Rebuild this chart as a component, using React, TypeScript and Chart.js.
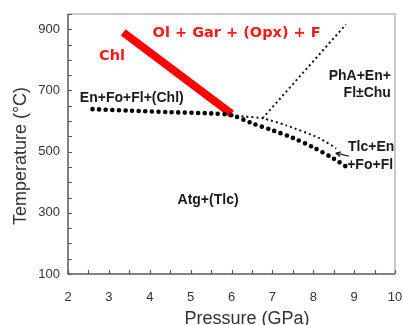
import React, { useEffect, useRef } from 'react';
import { Chart, registerables } from 'chart.js';

Chart.register(...registerables);

// ---- data (pressure in GPa, temperature in °C) ----
const xTickValues = [2, 3, 4, 5, 6, 7, 8, 9, 10];
const yTickValues = [100, 300, 500, 700, 900];

// Chlorite breakdown (red)
const chlP = [3.35, 6.0];
const chlT = [890, 624];

// Antigorite dehydration (big dots)
const atgP = [2.6, 3.5, 4.5, 5.5, 6.0, 6.5, 7.0, 7.5, 8.0, 8.5, 8.85];
const atgT = [639, 634, 629, 625, 619, 593, 570, 545, 514, 477, 447];

// Phase A boundary (thin dots, rising)
const phaP = [6.76, 8.8];
const phaT = [609, 916];

// Talc boundary (thin dots, falling)
const tlcP = [6.0, 6.3, 6.76, 7.34, 8.15, 8.56];
const tlcT = [620, 615, 609, 586, 544, 511];

// small arrow near label
const arrowP = [8.88, 8.56];
const arrowT = [485, 495];

// field labels: text, anchor pressure, anchor temperature
const labelText = ['Ol + Gar + (Opx) + F', 'Chl', 'En+Fo+Fl+(Chl)', 'PhA+En+', 'Fl±Chu', 'Tlc+En', '+Fo+Fl', 'Atg+(Tlc)'];
const labelP = [4.07, 2.76, 2.29, 9.9, 9.9, 8.85, 8.83, 4.68];
const labelT = [887, 812, 675, 747, 691, 515, 456, 342];
const labelAlign: CanvasTextAlign[] = ['left', 'left', 'left', 'right', 'right', 'left', 'left', 'left'];
const labelRed = [true, true, false, false, false, false, false, false];

const xTitle = 'Pressure (GPa)';
const yTitle = 'Temperature (°C)';

const pts = (xs: number[], ys: number[]) => xs.map((x, i) => ({ x, y: ys[i] }));

const decorPlugin = {
  id: 'decor',
  afterDatasetsDraw(chart: any) {
    const { ctx, chartArea: a, scales } = chart;
    const xs = scales.x;
    const ys = scales.y;
    ctx.save();
    // frame: top/right light
    ctx.strokeStyle = '#c9c9c9';
    ctx.lineWidth = 2;
    ctx.beginPath();
    ctx.moveTo(a.left, a.top);
    ctx.lineTo(a.right, a.top);
    ctx.lineTo(a.right, a.bottom);
    ctx.stroke();
    // left/bottom axes
    ctx.strokeStyle = '#5a5a5a';
    ctx.lineWidth = 1.5;
    ctx.beginPath();
    ctx.moveTo(a.left, a.top);
    ctx.lineTo(a.left, a.bottom);
    ctx.lineTo(a.right, a.bottom);
    ctx.stroke();
    // inward ticks
    ctx.lineWidth = 1.2;
    ctx.beginPath();
    for (let v = 100; v <= 950; v += 50) {
      const py = Math.round(ys.getPixelForValue(v)) + 0.5;
      ctx.moveTo(a.left, py);
      ctx.lineTo(a.left + 4, py);
    }
    for (let v = 2; v <= 10; v += 0.5) {
      const px = Math.round(xs.getPixelForValue(v)) + 0.5;
      ctx.moveTo(px, a.bottom);
      ctx.lineTo(px, a.bottom - 4);
    }
    ctx.stroke();

    // arrowhead
    const n = arrowP.length;
    const x1 = xs.getPixelForValue(arrowP[n - 2]);
    const y1 = ys.getPixelForValue(arrowT[n - 2]);
    const x2 = xs.getPixelForValue(arrowP[n - 1]);
    const y2 = ys.getPixelForValue(arrowT[n - 1]);
    const ang = Math.atan2(y2 - y1, x2 - x1);
    ctx.strokeStyle = '#111';
    ctx.lineWidth = 1.2;
    ctx.beginPath();
    ctx.moveTo(x2 - 5 * Math.cos(ang - 0.5), y2 - 5 * Math.sin(ang - 0.5));
    ctx.lineTo(x2, y2);
    ctx.lineTo(x2 - 5 * Math.cos(ang + 0.5), y2 - 5 * Math.sin(ang + 0.5));
    ctx.stroke();

    // field labels
    ctx.textBaseline = 'middle';
    labelText.forEach((t, i) => {
      const px = xs.getPixelForValue(labelP[i]);
      const py = ys.getPixelForValue(labelT[i]);
      ctx.textAlign = labelAlign[i];
      if (labelRed[i]) {
        ctx.fillStyle = '#ff1a1a';
        ctx.font = 'bold 14.5px "DejaVu Sans", sans-serif';
      } else {
        ctx.fillStyle = '#1a1a1a';
        ctx.font = 'bold 14px "Liberation Sans", Arial, sans-serif';
      }
      ctx.fillText(t, px, py);
    });

    // axis titles
    ctx.fillStyle = '#333';
    ctx.font = '18px "Liberation Sans", Arial, sans-serif';
    ctx.textAlign = 'center';
    ctx.textBaseline = 'alphabetic';
    ctx.fillText(xTitle, 247, 324);
    ctx.save();
    ctx.translate(21, 156);
    ctx.rotate(-Math.PI / 2);
    ctx.textBaseline = 'middle';
    ctx.fillText(yTitle, 0, 0);
    ctx.restore();
    ctx.restore();
  },
};

export default function App() {
  const ref = useRef<HTMLCanvasElement | null>(null);
  useEffect(() => {
    document.body.style.margin = '0';
    const canvas = ref.current;
    if (!canvas) return;
    const tickFont = { family: '"Liberation Sans", Arial, sans-serif', size: 13 };
    const chart = new Chart(canvas, {
      type: 'line',
      data: {
        datasets: [
          {
            data: pts(atgP, atgT),
            borderColor: '#000',
            borderWidth: 4.6,
            borderDash: [0, 6.6],
            borderCapStyle: 'round',
            pointRadius: 0,
            tension: 0.3,
            order: 0,
          },
          {
            data: pts(chlP, chlT),
            borderColor: '#ff0000',
            borderWidth: 8,
            borderCapStyle: 'butt',
            pointRadius: 0,
            order: 1,
          },
          {
            data: pts(phaP, phaT),
            borderColor: '#111',
            borderWidth: 2,
            borderDash: [2, 3],
            pointRadius: 0,
            order: 2,
          },
          {
            data: pts(tlcP, tlcT),
            borderColor: '#111',
            borderWidth: 2,
            borderDash: [2, 3],
            pointRadius: 0,
            tension: 0.2,
            order: 3,
          },
          {
            data: pts(arrowP, arrowT),
            borderColor: '#111',
            borderWidth: 1.2,
            pointRadius: 0,
            order: 4,
          },
        ],
      },
      options: {
        responsive: false,
        animation: false,
        layout: { padding: { left: 0, right: 8, top: 14, bottom: 0 } },
        plugins: { legend: { display: false }, tooltip: { enabled: false } },
        scales: {
          x: {
            type: 'linear',
            min: 2,
            max: 10,
            grid: { display: false, drawTicks: false },
            border: { display: false },
            ticks: { color: '#333', font: tickFont, padding: 16, maxRotation: 0 },
            afterBuildTicks: (s: any) => { s.ticks = xTickValues.map((v) => ({ value: v })); },
            afterFit: (s: any) => { s.height = 51; s.paddingLeft = 0; s.paddingRight = 0; },
          },
          y: {
            type: 'linear',
            min: 100,
            max: 950,
            grid: { display: false, drawTicks: false },
            border: { display: false },
            ticks: { color: '#333', font: tickFont, padding: 8 },
            afterBuildTicks: (s: any) => { s.ticks = yTickValues.map((v) => ({ value: v })); },
            afterFit: (s: any) => { s.width = 68; s.paddingTop = 0; s.paddingBottom = 0; },
          },
        },
      },
      plugins: [decorPlugin],
    } as any);
    return () => chart.destroy();
  }, []);
  return (
    <div style={{ position: 'absolute', left: 0, top: 0, width: 403, height: 325, background: '#fff' }}>
      <canvas ref={ref} width={403} height={325} style={{ display: 'block' }} />
    </div>
  );
}
